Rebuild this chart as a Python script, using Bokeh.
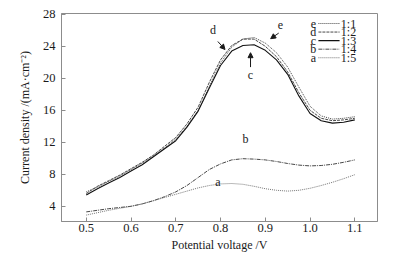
from bokeh.plotting import figure
from bokeh.models import (FixedTicker, PrintfTickFormatter, Range1d, Arrow,
                          NormalHead)
from bokeh.core.properties import value
from bokeh.embed import file_html
from bokeh.resources import INLINE

# ---------------- data ----------------
potential = [0.500, 0.525, 0.550, 0.575, 0.600, 0.625, 0.650, 0.675, 0.700,
             0.725, 0.750, 0.775, 0.800, 0.825, 0.850, 0.875, 0.900, 0.925,
             0.950, 0.975, 1.000, 1.025, 1.050, 1.075, 1.100]

curve_e = [5.8, 6.4, 7.1, 7.8, 8.6, 9.4, 10.3, 11.3, 12.4, 14.0, 16.0, 19.0,
           21.9, 23.9, 24.9, 25.1, 24.4, 23.2, 21.4, 18.9, 16.5, 15.3, 14.9,
           15.0, 15.2]
curve_d = [5.6, 6.5, 7.2, 7.9, 8.7, 9.5, 10.4, 11.5, 12.6, 14.3, 16.4, 19.5,
           22.3, 24.1, 24.9, 24.9, 24.0, 22.7, 20.8, 18.2, 16.0, 15.0, 14.7,
           14.8, 15.0]
curve_c = [5.4, 6.2, 6.9, 7.6, 8.4, 9.2, 10.2, 11.2, 12.2, 13.9, 15.9, 18.8,
           21.6, 23.4, 24.1, 24.2, 23.5, 22.3, 20.5, 17.8, 15.6, 14.7, 14.4,
           14.5, 14.8]
curve_b = [3.3, 3.5, 3.7, 3.85, 4.0, 4.3, 4.7, 5.2, 5.8, 6.6, 7.6, 8.6, 9.3,
           9.8, 9.95, 9.9, 9.8, 9.6, 9.35, 9.15, 9.05, 9.1, 9.25, 9.5, 9.8]
curve_a = [2.9, 3.2, 3.5, 3.75, 4.0, 4.3, 4.7, 5.1, 5.5, 5.9, 6.3, 6.6, 6.8,
           6.85, 6.75, 6.5, 6.2, 6.0, 5.9, 6.0, 6.25, 6.6, 7.0, 7.45, 7.95]

series_letters = ["e", "d", "c", "b", "a"]
series_ratios = ["1:1", "1:2", "1:3", "1:4", "1:5"]
series_values = [curve_e, curve_d, curve_c, curve_b, curve_a]

x_ticks = [0.5, 0.6, 0.7, 0.8, 0.9, 1.0, 1.1]
y_ticks = [4, 8, 12, 16, 20, 24, 28]

x_title = "Potential voltage /V"
y_title = "Current density /(mA\u00b7cm\u207b\u00b2)"

# ---------------- styles ----------------
FONT = "Liberation Serif"
dashes = ["1 1", "3 1", "solid", "4 1 1 1", "1 1"]
widths = [0.9, 0.9, 1.1, 0.9, 0.9]
colors = ["#333333", "#333333", "#111111", "#333333", "#666666"]
frame_col = "#8c8c8c"
text_col = "#1a1a1a"

p = figure(width=397, height=259, output_backend="svg", toolbar_location=None,
           x_range=Range1d(0.4447, 1.1507), y_range=Range1d(2.1, 28.1),
           min_border_left=61, min_border_right=20, min_border_top=13,
           min_border_bottom=38)
p.grid.visible = False
p.outline_line_color = frame_col
p.outline_line_width = 1
p.background_fill_color = "white"
p.border_fill_color = "white"

for ax in (p.xaxis[0], p.yaxis[0]):
    ax.axis_line_color = frame_col
    ax.major_tick_line_color = frame_col
    ax.major_tick_in = 4
    ax.major_tick_out = 0
    ax.minor_tick_line_color = None
    ax.major_label_text_font = FONT
    ax.major_label_text_font_size = "12.5px"
    ax.major_label_text_color = text_col
    ax.axis_label_text_font = FONT
    ax.axis_label_text_font_style = "normal"
    ax.axis_label_text_font_size = "12px"
    ax.axis_label_text_color = text_col

p.xaxis[0].ticker = FixedTicker(ticks=x_ticks)
p.xaxis[0].formatter = PrintfTickFormatter(format="%.1f")
p.xaxis[0].major_label_standoff = 2
p.xaxis[0].axis_label = x_title
p.xaxis[0].axis_label_standoff = 3
p.yaxis[0].ticker = FixedTicker(ticks=y_ticks)
p.yaxis[0].major_label_standoff = 6
p.yaxis[0].axis_label = y_title
p.yaxis[0].axis_label_standoff = 8

for vals, dash, w, col in zip(series_values, dashes, widths, colors):
    p.line(potential, vals, line_color=col, line_width=w, line_dash=dash)

# ---------------- legend (letter, sample line, ratio) ----------------
x0, x1 = p.x_range.start, p.x_range.end
y0, y1 = p.y_range.start, p.y_range.end
row_top = y1 - 1.25
row_step = 1.07
rows_y = [row_top - i * row_step for i in range(len(series_letters))]
lx_letter = x0 + 0.797 * (x1 - x0)
lx_start = x0 + 0.813 * (x1 - x0)
lx_end = x0 + 0.880 * (x1 - x0)
lx_label = x0 + 0.884 * (x1 - x0)

p.text(x=[lx_letter] * 5, y=rows_y, text=series_letters,
       text_font=value(FONT), text_font_size="12px", text_align="center",
       text_baseline="middle", text_color=text_col)
p.text(x=[lx_label] * 5, y=rows_y, text=series_ratios,
       text_font=value(FONT), text_font_size="12px", text_align="left",
       text_baseline="middle", text_color=text_col)
for yy, dash, w, col in zip(rows_y, dashes, widths, colors):
    p.segment(x0=[lx_start], y0=[yy], x1=[lx_end], y1=[yy],
              line_color=col, line_width=w, line_dash=dash)

# ---------------- curve annotations ----------------
ann_text = ["e", "d", "c", "b", "a"]
ann_x = [0.934, 0.783, 0.867, 0.856, 0.794]
ann_y = [26.7, 26.1, 20.4, 12.45, 7.05]
p.text(x=ann_x, y=ann_y, text=ann_text, text_font=value(FONT),
       text_font_size="12px", text_align="center", text_baseline="middle",
       text_color=text_col)

arrows = [((0.930, 25.65), (0.912, 24.95)),
          ((0.794, 24.6), (0.810, 23.6)),
          ((0.867, 21.4), (0.867, 23.2))]
for (sx, sy), (ex, ey) in arrows:
    p.add_layout(Arrow(x_start=sx, y_start=sy, x_end=ex, y_end=ey,
                       line_color=text_col, line_width=1,
                       end=NormalHead(size=5, fill_color=text_col,
                                      line_color=text_col)))

open("out.html", "w").write(file_html(p, INLINE))
